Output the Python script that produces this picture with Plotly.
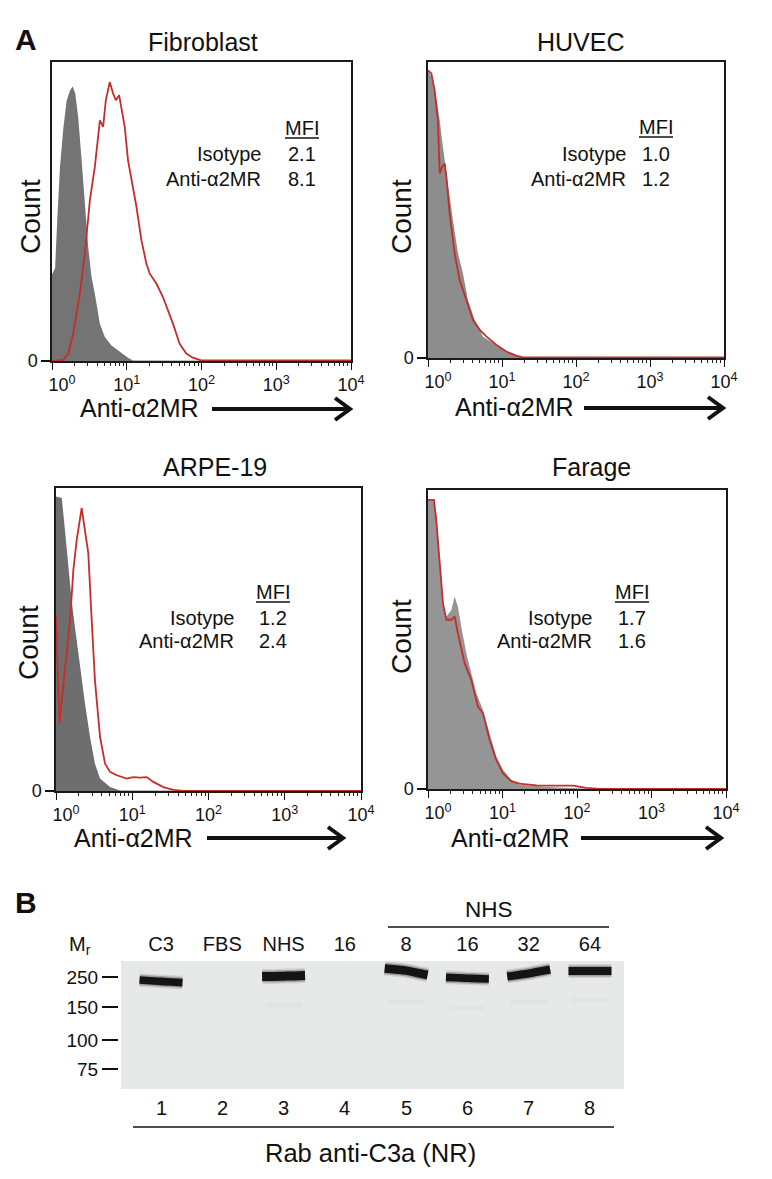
import plotly.graph_objects as go

# The page body keeps the browser's default 8 px margin, so the figure is drawn
# 8 px in from the window's top-left corner; all layout positions below are
# given in window pixels and converted with that offset.
OFF = 8
W, H = 772 - OFF, 1179 - OFF
FONT = "Arial, 'Liberation Sans', Helvetica, sans-serif"
INK = "#111111"

# ---------------- Panel A: flow cytometry histograms ----------------
panel_titles = ["Fibroblast", "HUVEC", "ARPE-19", "Farage"]
mfi_isotype = ["2.1", "1.0", "1.2", "1.7"]
mfi_anti = ["8.1", "1.2", "2.4", "1.6"]

# fluorescence intensity (x) and count as % of panel height (y)
fib_iso_x = [1.0, 1.1, 1.18, 1.28, 1.42, 1.57, 1.74, 1.89, 2.05, 2.24, 2.49, 2.75, 3.05, 3.38, 3.74,
             4.37, 5.09, 6.25, 8.07, 10.4, 12.1, 10000]
fib_iso_y = [29, 31, 48, 65, 78, 87, 90.5, 91.8, 89.4, 81.6, 67.1, 53.7, 38.1, 28.1, 22.5,
             12.5, 8.0, 5.2, 3.0, 1.1, 0.2, 0]
fib_ab_x = [1.0, 1.42, 1.65, 1.92, 2.36, 2.75, 3.21, 3.74, 4.37, 4.83, 5.25, 5.93, 6.58, 7.13, 7.91,
            8.49, 9.4, 10.4, 12.1, 13.5, 15.7, 18.3, 20.3, 24.9, 30.5, 35.6, 41.5, 50.9, 62.5, 76.6,
            99, 10000]
fib_ab_y = [0, 0.4, 2.5, 9.1, 22.5, 35.9, 53.7, 64.9, 80.5, 78.3, 87.2, 93.3, 89.4, 87.2, 88.9,
            84.9, 78.3, 67.1, 58.2, 51.5, 40.4, 32.6, 29.2, 25.9, 21.4, 16.9, 12.5, 5.8, 2.5, 1.1,
            0.2, 0.2]

huv_iso_x = [1.0, 1.11, 1.29, 1.44, 1.59, 1.86, 2.17, 2.54, 2.96, 3.46, 4.26, 5.52, 7.52, 10.3, 14.0,
             19.1, 10000]
huv_iso_y = [97.2, 94.9, 88.2, 80.3, 71.3, 57.9, 46.6, 35.4, 28.7, 19.7, 12.9, 7.3, 5.1, 2.8, 1.1,
             0.2, 0]
huv_ab_x = [1.0, 1.11, 1.23, 1.36, 1.44, 1.56, 1.68, 1.77, 1.96, 2.29, 2.67, 3.29, 4.05, 4.98, 6.12,
            8.34, 11.4, 15.5, 19.1, 10000]
huv_ab_y = [97.2, 96.1, 90.4, 80.3, 62.4, 64.6, 65.7, 61.2, 48.9, 35.4, 26.4, 19.7, 12.9, 9.6, 7.3,
            4.5, 2.2, 0.8, 0.2, 0.2]

arp_iso_x = [1.0, 1.19, 1.31, 1.45, 1.6, 1.77, 2.07, 2.4, 2.79, 3.24, 3.78, 5.11, 6.9, 10000]
arp_iso_y = [97.2, 96.7, 86.2, 73, 63.1, 54.2, 41, 28.9, 17.9, 9, 4.1, 1.3, 0.2, 0]
arp_ab_x = [1.0, 1.11, 1.31, 1.53, 1.69, 1.87, 2.17, 2.4, 2.65, 2.94, 3.24, 3.78, 4.4, 5.11, 6.25,
            8.45, 10.3, 12.6, 15.5, 18.9, 25.6, 34.6, 46.8, 10000]
arp_ab_y = [57.6, 22.3, 39.9, 56.4, 73, 82.9, 93.4, 86.2, 78.5, 56.4, 36.6, 17.9, 9, 6.3, 5.2,
            4.1, 4.6, 4.4, 4.6, 3, 1.3, 0.4, 0, 0]

far_iso_x = [1.0, 1.17, 1.29, 1.43, 1.59, 1.76, 2.06, 2.28, 2.52, 2.8, 3.27, 3.81, 4.45, 5.46, 6.71,
             8.24, 10.1, 13.1, 16.9, 28.4, 47.4, 87.9, 162, 10000]
far_iso_y = [96.7, 96.7, 92.2, 76.6, 61, 57.7, 59.9, 64.4, 61, 54.3, 45.4, 38.8, 32.1, 26.5, 18.7,
             10.9, 6.5, 3.1, 1.4, 0.9, 0.6, 0.3, 0, 0]
far_ab_x = [1.0, 1.2, 1.29, 1.43, 1.59, 1.76, 2.06, 2.28, 2.52, 3.1, 3.81, 4.68, 5.46, 6.71, 8.24,
            10.1, 13.1, 16.9, 28.4, 47.4, 87.9, 133, 200, 10000]
far_ab_y = [96.7, 96.7, 90, 75.5, 62.1, 56.6, 56.6, 57.7, 52.1, 42.1, 36.5, 27.6, 25.4, 16.5, 9.8,
            5.3, 2.6, 1.8, 1.2, 1.1, 1.1, 0.4, 0, 0]

decade_ticks = [1, 10, 100, 1000, 10000]
decade_text = ["&nbsp;&nbsp;&nbsp;&nbsp;10<sup>0</sup>", "10<sup>1</sup>", "10<sup>2</sup>",
               "10<sup>3</sup>", "10<sup>4</sup>"]
minor_ticks = [m * d for d in (1, 10, 100, 1000) for m in range(2, 10)]

# ---------------- Panel B: western blot ----------------
lanes = [1, 2, 3, 4, 5, 6, 7, 8]
lane_headers = ["C3", "FBS", "NHS", "16", "8", "16", "32", "64"]
lane_numbers = ["1", "2", "3", "4", "5", "6", "7", "8"]
marker_labels = ["250", "150", "100", "75"]
marker_mm = [8, 23, 39.5, 54]
band_lanes = [1, 3, 5, 6, 7, 8]
band_left_mm = [9.5, 7.8, 3.7, 8.2, 7.8, 5.0]
band_mid_mm = [10.2, 7.6, 4.8, 8.6, 6.2, 5.0]
band_right_mm = [10.8, 7.3, 7.0, 9.0, 4.2, 5.0]
band_intensity = [0.85, 1.0, 0.95, 0.85, 0.9, 0.88]
faint_lanes = [3, 5, 6, 7, 8]
faint_mm = [22, 20.5, 23.5, 20.5, 19.5]

# ---------------- layout helpers ----------------
def px(x):
    return (x - OFF) / W


def py(y):
    return 1 - (y - OFF) / H


fig = go.Figure()

boxes = [(52, 351, 62, 361), (428, 724, 62, 358), (56, 361, 488, 791), (428, 726, 490, 789)]
iso = [(fib_iso_x, fib_iso_y), (huv_iso_x, huv_iso_y), (arp_iso_x, arp_iso_y), (far_iso_x, far_iso_y)]
ab = [(fib_ab_x, fib_ab_y), (huv_ab_x, huv_ab_y), (arp_ab_x, arp_ab_y), (far_ab_x, far_ab_y)]
grays = ["#747474", "#8d8d8d", "#6e6e6e", "#959595"]
RED = "#c62d2a"

for i in range(4):
    n = "" if i == 0 else str(i + 1)
    m = str(i + 6)  # overlay axis carrying the minor ticks
    fig.add_trace(go.Scatter(x=iso[i][0], y=iso[i][1], mode="lines", fill="tozeroy",
                             fillcolor=grays[i], line=dict(width=0, color=grays[i]),
                             xaxis="x" + n, yaxis="y" + n, showlegend=False, hoverinfo="skip"))
    fig.add_trace(go.Scatter(x=ab[i][0], y=ab[i][1], mode="lines",
                             line=dict(width=1.8, color=RED),
                             xaxis="x" + n, yaxis="y" + n, showlegend=False, hoverinfo="skip"))
    fig.add_trace(go.Scatter(x=[1], y=[0], mode="markers", marker=dict(opacity=0, size=1),
                             xaxis="x" + m, yaxis="y" + n, showlegend=False, hoverinfo="skip"))
    l, r, t, b = boxes[i]
    fig.layout["xaxis" + n] = dict(
        type="log", range=[0, 4], domain=[px(l), px(r)], anchor="y" + n, automargin=False,
        showline=True, mirror=True, linecolor="#1a1a1a", linewidth=1.5,
        ticks="outside", ticklen=7, tickwidth=1.3, tickcolor="#111",
        tickmode="array", tickvals=decade_ticks, ticktext=decade_text,
        tickfont=dict(size=18, family=FONT, color=INK),
        showgrid=False, zeroline=False, layer="below traces", fixedrange=True)
    fig.layout["xaxis" + m] = dict(
        type="log", range=[0, 4], domain=[px(l), px(r)], anchor="y" + n,
        overlaying="x" + n, side="bottom", automargin=False,
        showline=False, ticks="outside", ticklen=4, tickwidth=1.2, tickcolor="#222",
        tickmode="array", tickvals=minor_ticks, ticktext=[""] * len(minor_ticks),
        showticklabels=False, showgrid=False, zeroline=False, layer="below traces",
        fixedrange=True)
    fig.layout["yaxis" + n] = dict(
        range=[0, 100], domain=[py(b), py(t)], anchor="x" + n, automargin=False,
        showline=True, mirror=True, linecolor="#1a1a1a", linewidth=1.5,
        ticks="outside", ticklen=9, tickwidth=1.5, tickcolor="#111",
        tickmode="array", tickvals=[0], ticktext=["0"],
        tickfont=dict(size=18, family=FONT, color=INK),
        showgrid=False, zeroline=False, fixedrange=True)

# blot bands (soft halo + dark core)
for k, ln in enumerate(band_lanes):
    w = 9 * band_intensity[k]
    xs = [ln - 0.35, ln - 0.17, ln, ln + 0.17, ln + 0.35]
    ys = [band_left_mm[k], (band_left_mm[k] + band_mid_mm[k]) / 2, band_mid_mm[k],
          (band_mid_mm[k] + band_right_mm[k]) / 2, band_right_mm[k]]
    for extra, col in ((6, "rgba(60,60,60,0.12)"), (3, "rgba(40,40,40,0.30)"), (0, "#141414")):
        fig.add_trace(go.Scatter(x=xs, y=ys, mode="lines",
                                 line=dict(width=w + extra, color=col, shape="spline"),
                                 xaxis="x5", yaxis="y5", showlegend=False, hoverinfo="skip"))
for k, ln in enumerate(faint_lanes):
    fig.add_trace(go.Scatter(x=[ln - 0.3, ln + 0.3], y=[faint_mm[k], faint_mm[k]], mode="lines",
                             line=dict(width=5, color="rgba(150,150,150,0.06)"),
                             xaxis="x5", yaxis="y5", showlegend=False, hoverinfo="skip"))

fig.layout["xaxis5"] = dict(
    domain=[px(121), px(624)], range=[0.347, 8.555], anchor="y5", side="top", automargin=False,
    tickmode="array", tickvals=lanes, ticktext=lane_headers, ticks="",
    ticklabelstandoff=5, tickfont=dict(size=20, family=FONT, color=INK),
    showline=False, showgrid=False, zeroline=False, fixedrange=True)
fig.layout["yaxis5"] = dict(
    domain=[py(1089), py(961)], range=[64, 0], anchor="free", position=px(118), automargin=False,
    tickmode="array", tickvals=marker_mm, ticktext=marker_labels,
    ticks="outside", ticklen=16, tickwidth=2.2, tickcolor="#111",
    tickfont=dict(size=19, family=FONT, color=INK),
    showline=False, showgrid=False, zeroline=False, fixedrange=True)

shapes = []
annotations = []


def ann(x, y, text, size, xanchor="center", angle=0, bold=False, xref="paper"):
    annotations.append(dict(
        x=x if xref != "paper" else px(x), y=py(y), xref=xref, yref="paper",
        text=("<b>%s</b>" % text) if bold else text, showarrow=False,
        xanchor=xanchor, yanchor="middle", textangle=angle,
        font=dict(size=size, family=FONT, color=INK)))


def hline(x0, x1, y, width=1.5):
    shapes.append(dict(type="line", xref="paper", yref="paper", x0=px(x0), x1=px(x1),
                       y0=py(y), y1=py(y), line=dict(color="#111", width=width)))


# panel letters
ann(26, 40, "A", 30, bold=True)
ann(26, 902, "B", 30, bold=True)

# titles / labels for flow panels
title_pos = [(203, 42), (581, 42), (215, 467), (591, 467)]
count_pos = [(30, 217), (401, 217), (28, 643), (401, 637)]
xlab_pos = [(78, 408), (453, 407), (72, 838), (449, 838)]
arrow_pos = [(212, 350, 409), (584, 723, 408), (207, 343, 838), (581, 721, 838)]
mfi_pos = [(302, 263, 128, 154, 179), (656, 628, 127, 154, 179),
           (273, 236, 592, 618, 641), (632, 594, 592, 618, 641)]

for i in range(4):
    ann(title_pos[i][0], title_pos[i][1], panel_titles[i], 25)
    ann(count_pos[i][0], count_pos[i][1], "Count", 28, angle=-90)
    ann(xlab_pos[i][0], xlab_pos[i][1], "Anti-α2MR", 25, xanchor="left")
    x0, x1, ya = arrow_pos[i]
    hline(x0, x1 - 2, ya, width=4)
    shapes.append(dict(type="path", xref="paper", yref="paper",
                       path="M %f %f L %f %f L %f %f" % (px(x1 - 15), py(ya - 11), px(x1), py(ya),
                                                        px(x1 - 15), py(ya + 11)),
                       line=dict(color="#111", width=4)))
    cx, rx, ym, yi, ya2 = mfi_pos[i]
    ann(cx, ym, "MFI", 20)
    hline(cx - 17, cx + 17, ym + 10, width=1.3)
    ann(rx, yi, "Isotype", 20, xanchor="right")
    ann(cx, yi, mfi_isotype[i], 20)
    ann(rx, ya2, "Anti-α2MR", 20, xanchor="right")
    ann(cx, ya2, mfi_anti[i], 20)

# blot decorations
shapes.append(dict(type="rect", xref="x5 domain", yref="y5 domain", x0=0, x1=1, y0=0, y1=1,
                   fillcolor="#e7e8e8", line=dict(width=0), layer="below"))
ann(80, 945, "M<sub>r</sub>", 20)
ann(489, 909, "NHS", 22.5)
hline(388, 609, 927, width=1.6)
for ln, txt in zip(lanes, lane_numbers):
    ann(ln, 1108, txt, 20, xref="x5")
hline(133, 614, 1127, width=1.6)
ann(370, 1153, "Rab anti-C3a (NR)", 25.5)

fig.update_layout(
    template="none",
    width=W, height=H, autosize=False,
    margin=dict(l=0, r=0, t=0, b=0, pad=0),
    paper_bgcolor="white", plot_bgcolor="white",
    shapes=shapes, annotations=annotations,
    font=dict(family=FONT, color=INK),
    showlegend=False,
)

fig.write_html("out.html")
